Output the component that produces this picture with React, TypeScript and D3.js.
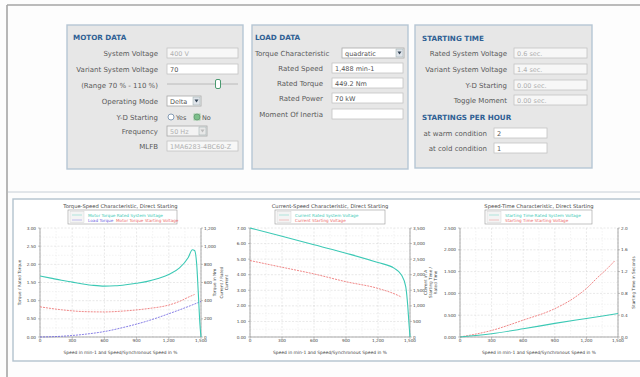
import React from 'react';
import * as d3 from 'd3';

// ---------- shared axis data ----------
const speedTicks = [0, 300, 600, 900, 1200, 1500];
const speedTickLabels = ['0', '300', '600', '900', '1,200', '1,500'];

// ---------- chart 1 : torque-speed ----------
const tsLeftTicks = [0, 0.5, 1, 1.5, 2, 2.5, 3];
const tsLeftLabels = ['0.00', '0.50', '1.00', '1.50', '2.00', '2.50', '3.00'];
const tsRightLabels = ['0', '200', '400', '600', '800', '1,000', '1,200'];
const torqueRatedSpeeds = [0, 100, 200, 300, 400, 500, 600, 700, 800, 900, 1000, 1100, 1200, 1300, 1380, 1420, 1440, 1460, 1475, 1490, 1500];
const torqueRatedValues = [1.68, 1.62, 1.56, 1.51, 1.46, 1.42, 1.40, 1.41, 1.44, 1.48, 1.53, 1.61, 1.72, 1.9, 2.18, 2.4, 2.38, 2.0, 1.2, 0.35, 0];
const torqueStartSpeeds = [0, 200, 400, 600, 800, 1000, 1200, 1300, 1400, 1440];
const torqueStartValues = [0.83, 0.75, 0.7, 0.69, 0.72, 0.78, 0.88, 0.98, 1.12, 1.17];
const loadSpeeds = [0, 200, 400, 600, 800, 1000, 1200, 1400, 1500];
const loadValues = [0, 0.02, 0.07, 0.15, 0.28, 0.44, 0.64, 0.86, 0.98];

// ---------- chart 2 : current-speed ----------
const csLeftTicks = [0, 1, 2, 3, 4, 5, 6, 7];
const csLeftLabels = ['0.00', '1.00', '2.00', '3.00', '4.00', '5.00', '6.00', '7.00'];
const csRightLabels = ['0', '500', '1,000', '1,500', '2,000', '2,500', '3,000', '3,500'];
const currentRatedSpeeds = [0, 300, 600, 900, 1200, 1350, 1420, 1460, 1480, 1490, 1500];
const currentRatedValues = [7.0, 6.47, 5.92, 5.38, 4.78, 4.42, 3.98, 3.23, 1.9, 0.9, 0];
const currentStartSpeeds = [0, 300, 600, 900, 1200, 1400, 1420];
const currentStartValues = [4.91, 4.48, 4.05, 3.55, 3.12, 2.63, 2.56];

// ---------- chart 3 : speed-time ----------
const stLeftTicks = [0, 0.4, 0.8, 1.2, 1.6, 2.0];
const stLeftLabels = ['0.000', '0.500', '1.000', '1.500', '2.000', '2.500'];
const stRightLabels = ['0.0', '0.4', '0.8', '1.2', '1.6', '2.0'];
const timeRatedSpeeds = [0, 300, 600, 900, 1200, 1500];
const timeRatedValues = [0, 0.06, 0.15, 0.25, 0.34, 0.43];
const timeStartSpeeds = [0, 300, 600, 900, 1100, 1200, 1300, 1400, 1470];
const timeStartValues = [0, 0.12, 0.31, 0.52, 0.74, 0.89, 1.08, 1.26, 1.4];

const TEAL = '#3cc9b5';
const RED = '#ec6a6a';
const BLUE = '#6a5fe0';
const FONT = 'DejaVu Sans, Verdana, sans-serif';

type Series = { xs: number[]; ys: number[]; color: string; dashed?: boolean; width?: number };
type LegendItem = { text: string; color: string; dx: number };

function Chart(props: {
  x0: number; x1: number; y0: number; y1: number; yMax: number;
  leftTicks: number[]; leftLabels: string[]; rightLabels: string[];
  series: Series[]; title: string; legend: LegendItem[][];
  legendX: number; legendW: number;
  leftTitle: string[]; rightTitle: string[]; leftTitleX: number; rightTitleX: number;
}) {
  const { x0, x1, y0, y1, yMax } = props;
  const x = d3.scaleLinear().domain([0, 1500]).range([x0, x1]);
  const y = d3.scaleLinear().domain([0, yMax]).range([y1, y0]);
  const cx = (x0 + x1) / 2;
  const cy = (y0 + y1) / 2;
  const minorX = speedTicks.slice(1).map((t, i) => (t + speedTicks[i]) / 2);
  const minorY = props.leftTicks.slice(1).map((t, i) => (t + props.leftTicks[i]) / 2);
  const line = d3.line<[number, number]>().x(d => x(d[0])).y(d => y(d[1])).curve(d3.curveMonotoneX);
  return (
    <g fontFamily={FONT}>
      <text x={cx} y={208} fontSize={5.2} textAnchor="middle" fill="#444">{props.title}</text>
      <rect x={props.legendX} y={210} width={props.legendW} height={14} fill="#fff" stroke="#999" strokeWidth={0.6} />
      <rect x={props.legendX + 2} y={211.5} width={14} height={11} fill="#f4f4f4" stroke="#ccc" strokeWidth={0.4} />
      {props.legend.map((row, ri) => (
        <g key={ri}>
          <line x1={props.legendX + 4} x2={props.legendX + 14} y1={215 + ri * 5} y2={215 + ri * 5} stroke={row[0].color} strokeWidth={0.6} opacity={0.6} />
          {row.map((it, ii) => (
            <text key={ii} x={props.legendX + 20 + it.dx} y={216.5 + ri * 5} fontSize={4.2} fill={it.color}>{it.text}</text>
          ))}
        </g>
      ))}
      {minorX.map((t, i) => <line key={'mx' + i} x1={x(t)} x2={x(t)} y1={y0} y2={y1} stroke="#e6e6e6" strokeWidth={0.5} strokeDasharray="1.5,1.5" />)}
      {minorY.map((t, i) => <line key={'my' + i} x1={x0} x2={x1} y1={y(t)} y2={y(t)} stroke="#e6e6e6" strokeWidth={0.5} strokeDasharray="1.5,1.5" />)}
      {speedTicks.map((t, i) => <line key={'gx' + i} x1={x(t)} x2={x(t)} y1={y0} y2={y1} stroke="#d2d2d2" strokeWidth={0.5} strokeDasharray="2,1.5" />)}
      {props.leftTicks.map((t, i) => <line key={'gy' + i} x1={x0} x2={x1} y1={y(t)} y2={y(t)} stroke="#d2d2d2" strokeWidth={0.5} strokeDasharray="2,1.5" />)}
      <line x1={x0} x2={x0} y1={y0} y2={y1} stroke="#888" strokeWidth={0.7} />
      <line x1={x1} x2={x1} y1={y0} y2={y1} stroke="#888" strokeWidth={0.7} />
      <line x1={x0} x2={x1} y1={y1} y2={y1} stroke="#888" strokeWidth={0.7} />
      {props.leftTicks.map((t, i) => (
        <g key={'lt' + i}>
          <line x1={x0 - 2} x2={x0} y1={y(t)} y2={y(t)} stroke="#888" strokeWidth={0.5} />
          <text x={x0 - 4} y={y(t) + 1.5} fontSize={4.2} textAnchor="end" fill="#444">{props.leftLabels[i]}</text>
          <line x1={x1} x2={x1 + 2} y1={y(t)} y2={y(t)} stroke="#888" strokeWidth={0.5} />
          <text x={x1 + 3} y={y(t) + 1.5} fontSize={4.2} textAnchor="start" fill="#444">{props.rightLabels[i]}</text>
        </g>
      ))}
      {speedTicks.map((t, i) => (
        <g key={'bt' + i}>
          <line x1={x(t)} x2={x(t)} y1={y1} y2={y1 + 2} stroke="#888" strokeWidth={0.5} />
          <text x={x(t)} y={y1 + 5} fontSize={4.2} textAnchor="middle" fill="#444">{speedTickLabels[i]}</text>
        </g>
      ))}
      <text x={cx} y={354} fontSize={4.4} textAnchor="middle" fill="#444">Speed in min-1 and Speed/Synchronous Speed in %</text>
      {props.leftTitle.map((s, i) => (
        <text key={'ltt' + i} transform={`translate(${props.leftTitleX + i * 4.5},${cy}) rotate(-90)`} fontSize={4.2} textAnchor="middle" fill="#444">{s}</text>
      ))}
      {props.rightTitle.map((s, i) => (
        <text key={'rtt' + i} transform={`translate(${props.rightTitleX + i * 4.5},${cy}) rotate(-90)`} fontSize={4.2} textAnchor="middle" fill="#444">{s}</text>
      ))}
      {props.series.map((s, i) => (
        <path key={'s' + i} d={line(s.xs.map((v, j) => [v, s.ys[j]] as [number, number])) || ''} fill="none"
          stroke={s.color} strokeWidth={s.width ?? 0.9} strokeDasharray={s.dashed ? '2,1' : undefined} />
      ))}
    </g>
  );
}

function Label({ x, y, text, anchor = 'end' }: { x: number; y: number; text: string; anchor?: string }) {
  return <text x={x} y={y + 2.5} fontSize={7} textAnchor={anchor as any} fill="#5a5a5a" fontFamily={FONT}>{text}</text>;
}

function Input({ x, y, w, text, disabled = false }: { x: number; y: number; w: number; text: string; disabled?: boolean }) {
  return (
    <g>
      <rect x={x} y={y - 5} width={w} height={10} fill={disabled ? '#f7f7f7' : '#fff'} stroke="#c4c4c4" strokeWidth={0.8} />
      <text x={x + 3} y={y + 2.5} fontSize={6.5} fill={disabled ? '#b0b0b0' : '#555'} fontFamily={FONT}>{text}</text>
    </g>
  );
}

function Select({ x, y, w, text, disabled = false }: { x: number; y: number; w: number; text: string; disabled?: boolean }) {
  return (
    <g>
      <rect x={x} y={y - 5} width={w} height={10} fill={disabled ? '#f3f3f3' : '#fff'} stroke="#a8a8a8" strokeWidth={0.8} />
      <text x={x + 3} y={y + 2.5} fontSize={6.5} fill={disabled ? '#b0b0b0' : '#555'} fontFamily={FONT}>{text}</text>
      <rect x={x + w - 8} y={y - 4} width={7} height={8} fill={disabled ? '#e8e8e8' : '#dfe4ea'} stroke="#9aa" strokeWidth={0.5} />
      <path d={`M${x + w - 6.5},${y - 1.5} L${x + w - 2.5},${y - 1.5} L${x + w - 4.5},${y + 1.5} Z`} fill={disabled ? '#bbb' : '#345'} />
    </g>
  );
}

function Title({ x, y, text }: { x: number; y: number; text: string }) {
  return <text x={x} y={y + 2.5} fontSize={7.2} fontWeight="bold" fill="#2f6094" fontFamily={FONT}>{text}</text>;
}

export default function App() {
  return (
    <svg width={640} height={377} style={{ position: 'absolute', left: 0, top: 0 }}>
      <rect x={0} y={0} width={640} height={377} fill="#fdfdfd" />
      <line x1={7} x2={640} y1={5} y2={5} stroke="#a5a5a5" strokeWidth={1.6} />
      <line x1={7} x2={7} y1={5} y2={377} stroke="#a5a5a5" strokeWidth={1.6} />
      <line x1={8} x2={640} y1={192} y2={192} stroke="#c6ced6" strokeWidth={1} />

      {/* panels */}
      <rect x={67} y={25} width={176} height={144} fill="#e7e7e7" stroke="#b6c6d4" strokeWidth={1.4} />
      <rect x={252} y={25} width={156} height={144} fill="#e7e7e7" stroke="#b6c6d4" strokeWidth={1.4} />
      <rect x={415} y={25} width={177} height={143} fill="#e7e7e7" stroke="#b6c6d4" strokeWidth={1.4} />

      {/* motor data */}
      <Title x={73} y={37} text="MOTOR DATA" />
      <Label x={158} y={53} text="System Voltage" />
      <Input x={167} y={53} w={71} text="400 V" disabled />
      <Label x={158} y={69} text="Variant System Voltage" />
      <Input x={167} y={69} w={71} text="70" />
      <Label x={158} y={85} text="(Range 70 % - 110 %)" />
      <line x1={167} x2={238} y1={84} y2={84} stroke="#b0b0b0" strokeWidth={0.8} />
      <rect x={215.5} y={79.5} width={5} height={9} rx={1.5} fill="#fff" stroke="#4a9a70" strokeWidth={1} />
      <Label x={158} y={101} text="Operating Mode" />
      <Select x={167} y={101} w={34} text="Delta" />
      <Label x={158} y={117} text="Y-D Starting" />
      <circle cx={171} cy={117} r={3} fill="#fff" stroke="#6a86a6" strokeWidth={0.8} />
      <text x={176} y={119.5} fontSize={6.5} fill="#555" fontFamily={FONT}>Yes</text>
      <rect x={193.5} y={113.5} width={7} height={7} fill="#9fd0a6" />
      <circle cx={197} cy={117} r={3} fill="#7cc08a" stroke="#5a8a6a" strokeWidth={0.6} />
      <text x={202} y={119.5} fontSize={6.5} fill="#555" fontFamily={FONT}>No</text>
      <Label x={158} y={131} text="Frequency" />
      <Select x={167} y={131} w={40} text="50 Hz" disabled />
      <Label x={158} y={146} text="MLFB" />
      <Input x={167} y={146} w={71} text="1MA6283-4BC60-Z" disabled />

      {/* load data */}
      <Title x={255} y={37} text="LOAD DATA" />
      <Label x={255} y={53} text="Torque Characteristic" anchor="start" />
      <Select x={342} y={53} w={62} text="quadratic" />
      <Label x={323} y={68} text="Rated Speed" />
      <Input x={332} y={68} w={71} text="1,488 min-1" />
      <Label x={323} y={83} text="Rated Torque" />
      <Input x={332} y={83} w={71} text="449.2 Nm" />
      <Label x={323} y={98} text="Rated Power" />
      <Input x={332} y={98} w={71} text="70 kW" />
      <Label x={323} y={114} text="Moment Of Inertia" />
      <Input x={332} y={114} w={71} text="" />

      {/* starting time */}
      <Title x={422} y={38} text="STARTING TIME" />
      <Label x={507} y={53} text="Rated System Voltage" />
      <Input x={514} y={53} w={73} text="0.6 sec." disabled />
      <Label x={507} y={69} text="Variant System Voltage" />
      <Input x={514} y={69} w={73} text="1.4 sec." disabled />
      <Label x={507} y={85} text="Y-D Starting" />
      <Input x={514} y={85} w={73} text="0.00 sec." disabled />
      <Label x={507} y={100} text="Toggle Moment" />
      <Input x={514} y={100} w={73} text="0.00 sec." disabled />
      <Title x={422} y={117} text="STARTINGS PER HOUR" />
      <Label x={487} y={133} text="at warm condition" />
      <Input x={494} y={133} w={53} text="2" />
      <Label x={487} y={148} text="at cold condition" />
      <Input x={494} y={148} w={53} text="1" />

      {/* charts container */}
      <rect x={13} y={199} width={640} height={162} fill="#fff" stroke="#b3c2ce" strokeWidth={1.4} />

      <Chart x0={40} x1={201} y0={228} y1={337} yMax={3}
        leftTicks={tsLeftTicks} leftLabels={tsLeftLabels} rightLabels={tsRightLabels}
        title="Torque-Speed Characteristic, Direct Starting"
        legendX={68} legendW={109}
        legend={[[{ text: 'Motor Torque Rated System Voltage', color: TEAL, dx: 0 }],
                 [{ text: 'Load Torque', color: BLUE, dx: 0 }, { text: 'Motor Torque Starting Voltage', color: RED, dx: 28 }]]}
        leftTitle={['Torque / Rated Torque']} rightTitle={['Torque in Nm']}
        leftTitleX={21} rightTitleX={216}
        series={[
          { xs: loadSpeeds, ys: loadValues, color: BLUE, dashed: true, width: 0.8 },
          { xs: torqueStartSpeeds, ys: torqueStartValues, color: RED, dashed: true, width: 0.8 },
          { xs: torqueRatedSpeeds, ys: torqueRatedValues, color: TEAL, width: 1.1 },
        ]} />

      <Chart x0={250} x1={410} y0={228} y1={337} yMax={7}
        leftTicks={csLeftTicks} leftLabels={csLeftLabels} rightLabels={csRightLabels}
        title="Current-Speed Characteristic, Direct Starting"
        legendX={275} legendW={110}
        legend={[[{ text: 'Current Rated System Voltage', color: TEAL, dx: 0 }],
                 [{ text: 'Current Starting Voltage', color: RED, dx: 0 }]]}
        leftTitle={['Current / Rated', 'Current']} rightTitle={['Current in A']}
        leftTitleX={223} rightTitleX={427}
        series={[
          { xs: currentStartSpeeds, ys: currentStartValues, color: RED, dashed: true, width: 0.8 },
          { xs: currentRatedSpeeds, ys: currentRatedValues, color: TEAL, width: 1.1 },
        ]} />

      <Chart x0={460} x1={618} y0={228} y1={337} yMax={2}
        leftTicks={stLeftTicks} leftLabels={stLeftLabels} rightLabels={stRightLabels}
        title="Speed-Time Characteristic, Direct Starting"
        legendX={485} legendW={107}
        legend={[[{ text: 'Starting Time Rated System Voltage', color: TEAL, dx: 0 }],
                 [{ text: 'Starting Time Starting Voltage', color: RED, dx: 0 }]]}
        leftTitle={['Starting Time /', 'Rated Time']} rightTitle={['Starting Time in Seconds']}
        leftTitleX={432} rightTitleX={635}
        series={[
          { xs: timeStartSpeeds, ys: timeStartValues, color: RED, dashed: true, width: 0.8 },
          { xs: timeRatedSpeeds, ys: timeRatedValues, color: TEAL, width: 1.1 },
        ]} />
    </svg>
  );
}
